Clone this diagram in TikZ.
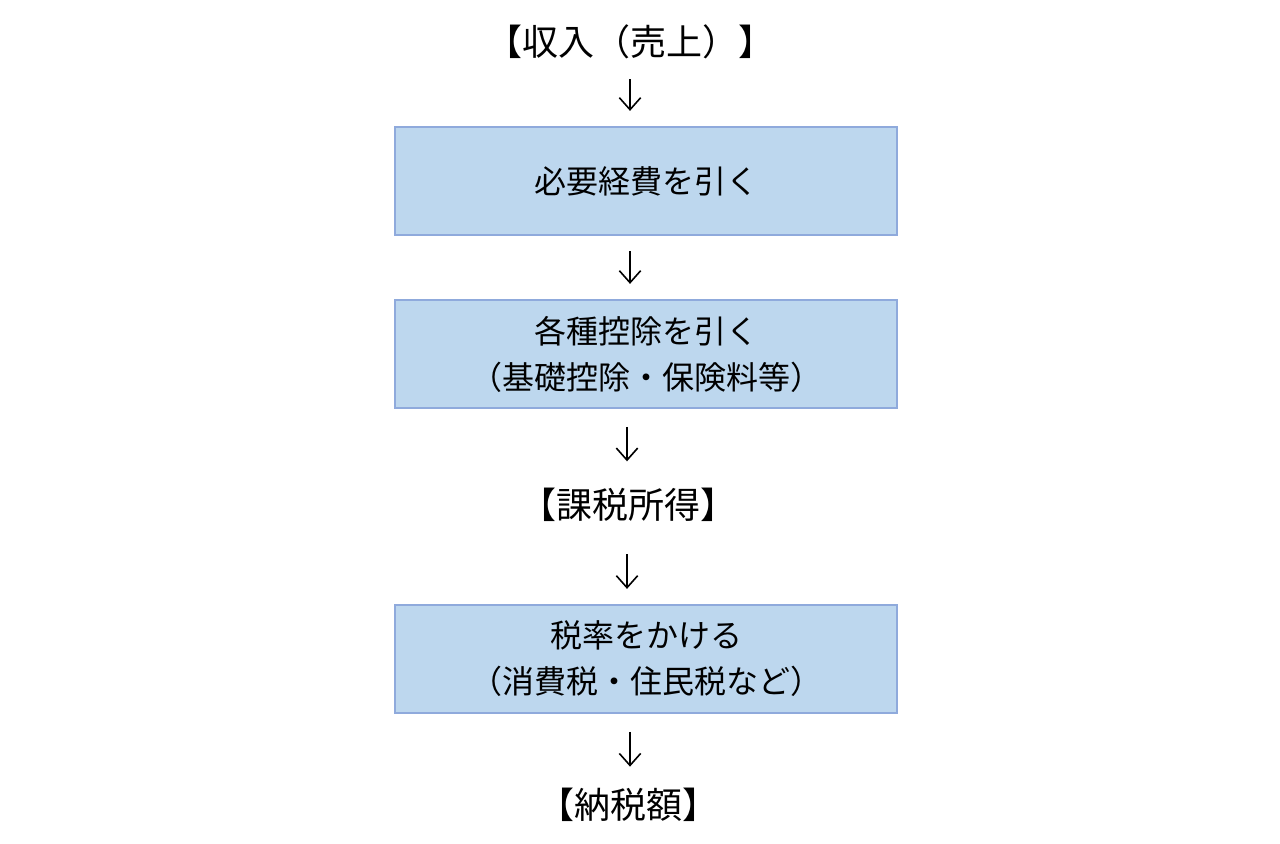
\documentclass[tikz,border=0pt]{standalone}
\usepackage{fontspec}
\setmainfont{Noto Sans CJK JP}
\usetikzlibrary{arrows.meta}
\tikzset{
	stepbox/.style={draw={rgb,255:red,143;green,170;blue,220}, line width=2.2pt,
		fill={rgb,255:red,189;green,215;blue,238}, minimum width=376.5pt,
		minimum height=81pt, inner sep=0pt, align=center, font=\fontsize{24}{34.5}\selectfont},
	result/.style={inner sep=0pt, font=\fontsize{27}{32}\selectfont},
	flow/.style={-{Straight Barb[length=9pt,width=16pt,line width=1.2pt]}, line width=1.2pt}}

\begin{document}
\begin{tikzpicture}[x=0.75pt,y=0.75pt,yscale=-1,xscale=1]
	\useasboundingbox (0,0) rectangle (1280,843);

	% Text Node
	\node[result] (income) at (630,42) {【収入（売上）】};
	% Boxes
	\node[stepbox] (expense) at (646,181) {必要経費を引く};
	\node[stepbox] (deduct) at (646,354) {各種控除を引く\\（基礎控除・保険料等）};
	% Text Node
	\node[result] (taxable) at (628,505) {【課税所得】};
	\node[stepbox] (rate) at (646,659) {税率をかける\\（消費税・住民税など）};
	% Text Node
	\node[result] (payable) at (628,805) {【納税額】};

	% Arrows
	\draw[flow, shorten <=15pt, shorten >=11pt] (income.south -| 630,0) -- (expense.north -| 630,0);
	\draw[flow, shorten <=11pt, shorten >=11pt] (expense.south -| 630,0) -- (deduct.north -| 630,0);
	\draw[flow, shorten <=13pt, shorten >=20pt] (deduct.south -| 627,0) -- (taxable.north -| 627,0);
	\draw[flow, shorten <=24pt, shorten >=11pt] (taxable.south -| 627,0) -- (rate.north -| 627,0);
	\draw[flow, shorten <=13pt, shorten >=16pt] (rate.south -| 630,0) -- (payable.north -| 630,0);

\end{tikzpicture}
\end{document}
